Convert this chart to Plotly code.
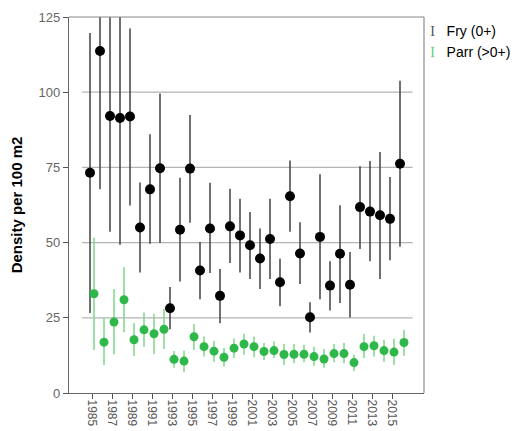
import plotly.graph_objects as go

years = list(range(1985, 2017))

fry_mean = [73.2, 113.7, 92.1, 91.4, 91.9, 55.0, 67.7, 74.7, 28.2, 54.3, 74.6, 40.7, 54.7, 32.3, 55.4, 52.4,
            49.1, 44.7, 51.2, 36.8, 65.4, 46.4, 25.2, 51.9, 35.7, 46.3, 36.0, 61.8, 60.3, 59.1, 57.9, 76.2]
fry_upper = [119.7, 159.7, 130.6, 133.5, 121.2, 70.0, 86.0, 99.6, 35.2, 71.6, 92.4, 50.2, 69.9, 41.2, 67.9, 64.6,
             60.2, 54.7, 64.6, 44.6, 77.3, 56.8, 30.2, 72.7, 43.8, 62.4, 46.9, 75.4, 77.1, 80.1, 71.8, 103.8]
fry_lower = [26.6, 67.7, 53.6, 49.3, 62.3, 40.1, 49.6, 49.9, 21.2, 37.1, 56.6, 31.2, 39.9, 23.2, 43.2, 40.1,
             37.9, 34.6, 37.9, 28.8, 53.6, 36.2, 20.1, 31.2, 27.4, 29.9, 25.1, 47.9, 43.8, 37.9, 44.1, 48.6]

parr_mean = [33.0, 16.9, 23.6, 31.0, 17.7, 21.0, 19.7, 21.2, 11.2, 10.6, 18.7, 15.4, 13.9, 11.9, 14.9, 16.3,
             15.4, 13.8, 14.1, 12.8, 12.9, 12.9, 12.1, 11.3, 13.1, 13.1, 10.1, 15.4, 15.7, 14.1, 13.6, 16.8]
parr_upper = [51.6, 24.9, 34.6, 41.8, 23.2, 26.8, 26.3, 27.9, 14.0, 14.1, 22.9, 18.8, 17.3, 15.0, 18.1, 19.7,
              18.8, 16.6, 17.1, 16.3, 16.3, 16.0, 15.4, 14.6, 16.3, 16.6, 12.7, 19.6, 19.0, 17.7, 18.0, 21.0]
parr_lower = [14.3, 9.3, 12.9, 20.2, 12.3, 15.4, 13.0, 14.6, 8.4, 6.9, 14.3, 12.1, 10.4, 8.8, 11.6, 12.7,
              11.9, 11.0, 11.6, 9.3, 9.9, 10.2, 9.1, 8.4, 10.2, 9.9, 7.3, 11.6, 12.1, 10.4, 9.3, 12.4]

tick_years = list(range(1985, 2016, 2))
y_ticks = [0, 25, 50, 75, 100, 125]

FONT = "Liberation Sans, Arial, sans-serif"
FRY_BAR = "#404040"
PARR_BAR = "#7fd68a"
dodge = 0.2

fig = go.Figure()

fig.add_trace(go.Scatter(
    x=[y - dodge for y in years], y=fry_mean, mode="markers",
    marker=dict(color="black", size=10),
    error_y=dict(type="data", symmetric=False,
                 array=[u - m for u, m in zip(fry_upper, fry_mean)],
                 arrayminus=[m - l for m, l in zip(fry_mean, fry_lower)],
                 color=FRY_BAR, thickness=1.5, width=0),
    name="Fry (0+)", showlegend=False))

fig.add_trace(go.Scatter(
    x=[y + dodge for y in years], y=parr_mean, mode="markers",
    marker=dict(color="#2fb84a", size=9),
    error_y=dict(type="data", symmetric=False,
                 array=[u - m for u, m in zip(parr_upper, parr_mean)],
                 arrayminus=[m - l for m, l in zip(parr_mean, parr_lower)],
                 color=PARR_BAR, thickness=1.5, width=0),
    name="Parr (>0+)", showlegend=False))

# legend entries with an error-bar glyph ("I" with serifs) in the text
def glyph_name(color, label):
    return (f"<span style='font-family:Liberation Serif, DejaVu Serif, serif;color:{color}'>I</span>"
            f"&nbsp;&nbsp;&nbsp;{label}")

invisible = dict(size=0, color="rgba(0,0,0,0)", line=dict(width=0, color="rgba(0,0,0,0)"))
fig.add_trace(go.Scatter(x=[None], y=[None], mode="markers", name=glyph_name("#505050", "Fry (0+)"),
                         marker=invisible))
fig.add_trace(go.Scatter(x=[None], y=[None], mode="markers", name=glyph_name("#5fcf6f", "Parr (>0+)"),
                         marker=invisible))

# inset gridlines (SPSS style)
for v in y_ticks[1:-1]:
    fig.add_shape(type="line", xref="paper", yref="y", x0=0.037, x1=0.968, y0=v, y1=v,
                  line=dict(color="#b4b4b4", width=1.2), layer="below")
# top and right frame
fig.add_shape(type="line", xref="paper", yref="paper", x0=0, x1=1, y0=1, y1=1,
              line=dict(color="#8a8a8a", width=1.2))
fig.add_shape(type="line", xref="paper", yref="paper", x0=1, x1=1, y0=0, y1=1,
              line=dict(color="#8a8a8a", width=1.2))

fig.update_layout(
    width=521, height=431,
    margin=dict(l=69, r=97, t=17, b=38, autoexpand=False),
    paper_bgcolor="white", plot_bgcolor="white",
    font=dict(family=FONT, color="#555555"),
    legend=dict(x=0.905, y=1.005, xanchor="left", yanchor="top",
                font=dict(family=FONT, size=14, color="black"),
                itemwidth=30, tracegroupgap=0, bgcolor="rgba(0,0,0,0)"),
    xaxis=dict(range=[1982.7, 2018.2], tickmode="array", tickvals=tick_years,
               ticktext=[str(t) for t in tick_years], tickangle=90, automargin=False,
               ticks="outside", ticklen=5, tickcolor="#555555", ticklabelstandoff=-2,
               showgrid=False, zeroline=False, showline=True, linecolor="#666666", linewidth=1.2,
               tickfont=dict(family=FONT, size=12, color="#555555")),
    yaxis=dict(range=[0, 125], tickvals=y_ticks, ticks="outside", ticklen=5, tickcolor="#555555",
               showgrid=False, zeroline=False, showline=True, linecolor="#666666", linewidth=1.2,
               automargin=False,
               tickfont=dict(family=FONT, size=13, color="#666666"),
               title=dict(text="<b>Density per 100 m2</b>", font=dict(family=FONT, size=15, color="black"),
                          standoff=12)),
)

fig.write_html("out.html", config={"displayModeBar": False},
               post_script="document.body.style.margin='0';")
